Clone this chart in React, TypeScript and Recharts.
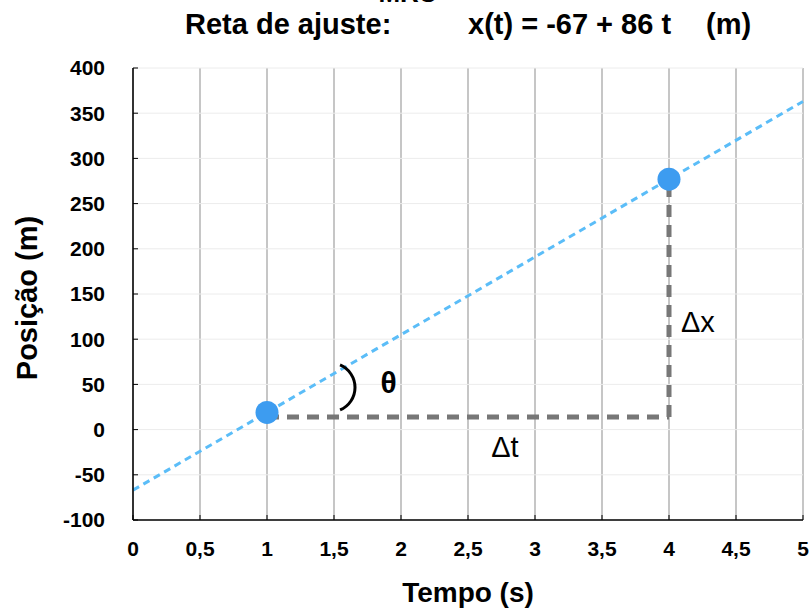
import { ComposedChart, CartesianGrid, Line, ReferenceDot, Scatter, XAxis, YAxis } from "recharts";

const measuredTimes = [1, 4];
const measuredPositions = [19, 277];

// fitted line read at the plot edges: x(t) = -67 + 86 t
const fitTimes = [0, 5];
const fitPositions = [-67, 363];

// dashed guides for Δt and Δx
const deltaTTimes = [1, 4];
const deltaTPositions = [14, 14];
const deltaXTimes = [4, 4];
const deltaXPositions = [14, 273];

const xTicks = [0, 0.5, 1, 1.5, 2, 2.5, 3, 3.5, 4, 4.5, 5];
const yTicks = [-100, -50, 0, 50, 100, 150, 200, 250, 300, 350, 400];

const zip = (ts: number[], xs: number[]) => ts.map((t, i) => ({ t, x: xs[i] }));

const measured = zip(measuredTimes, measuredPositions);
const fit = zip(fitTimes, fitPositions);
const deltaT = zip(deltaTTimes, deltaTPositions);
const deltaX = zip(deltaXTimes, deltaXPositions);

const FONT = "'Liberation Sans', Arial, Helvetica, sans-serif";
const tickStyle = { fill: "#000", fontSize: 21, fontWeight: 700, fontFamily: FONT };

const label = (text: string, size: number, weight: number) => (p: any) => (
  <text x={p.cx} y={p.cy} dy="0.36em" textAnchor="middle" fontSize={size} fontWeight={weight} fontFamily={FONT} fill="#000">
    {text}
  </text>
);

export default function App() {
  return (
    <div style={{ position: "absolute", left: 0, top: 0, width: 811, height: 612, background: "#fff" }}>
      <ComposedChart width={811} height={612} margin={{ top: 68, right: 8, bottom: 52, left: 73 }}>
        <CartesianGrid horizontal={false} stroke="#a0a0a0" strokeWidth={1.2} />
        <CartesianGrid vertical={false} stroke="#ececec" />
        <XAxis
          type="number"
          dataKey="t"
          domain={[0, 5]}
          ticks={xTicks}
          interval={0}
          height={40}
          tickSize={-5}
          tickMargin={26}
          tickFormatter={(v: number) => String(v).replace(".", ",")}
          tick={tickStyle}
          axisLine={{ stroke: "#000", strokeWidth: 1.5 }}
          tickLine={{ stroke: "#000" }}
        />
        <YAxis
          type="number"
          dataKey="x"
          domain={[-100, 400]}
          ticks={yTicks}
          interval={0}
          width={60}
          tickSize={-5}
          tickMargin={33}
          tick={tickStyle}
          axisLine={{ stroke: "#000", strokeWidth: 1.5 }}
          tickLine={{ stroke: "#000" }}
        />
        <Scatter
          data={measured}
          isAnimationActive={false}
          shape={(p: any) => <circle cx={p.cx} cy={p.cy} r={11.5} fill="#3d9cf0" />}
        />
        <Line data={fit} dataKey="x" stroke="#5bbdf8" strokeWidth={3} strokeDasharray="7 5" dot={false} activeDot={false} isAnimationActive={false} />
        <Line data={deltaT} dataKey="x" stroke="#777" strokeWidth={5} strokeDasharray="12 8" dot={false} activeDot={false} isAnimationActive={false} />
        <Line data={deltaX} dataKey="x" stroke="#777" strokeWidth={5} strokeDasharray="12 8" dot={false} activeDot={false} isAnimationActive={false} />
        <ReferenceDot
          x={1.475}
          y={46.6}
          shape={(p: any) => (
            <path
              d={`M ${p.cx + 9.4} ${p.cy - 22.5} A 24.4 24.4 0 0 1 ${p.cx + 9.4} ${p.cy + 22.5}`}
              fill="none"
              stroke="#000"
              strokeWidth={3}
            />
          )}
        />
        <ReferenceDot x={1.907} y={52.7} shape={label("θ", 30, 700)} />
        <ReferenceDot x={2.776} y={-18.7} shape={label("Δt", 29, 400)} />
        <ReferenceDot x={4.216} y={119.6} shape={label("Δx", 29, 400)} />
      </ComposedChart>
      <svg width={811} height={612} style={{ position: "absolute", left: 0, top: 0, pointerEvents: "none" }}>
        <g fontFamily={FONT} fontWeight={700} fill="#000">
          <text x={408} y={2} fontSize={26} textAnchor="middle">MRU</text>
          <text x={185} y={34} fontSize={29}>Reta de ajuste:</text>
          <text x={468} y={34} fontSize={29}>x(t) = -67 + 86 t</text>
          <text x={706} y={34} fontSize={29}>(m)</text>
          <text x={468} y={602} fontSize={28} textAnchor="middle">Tempo (s)</text>
          <text x={37} y={298} fontSize={29} textAnchor="middle" transform="rotate(-90 37 298)">Posição (m)</text>
        </g>
      </svg>
    </div>
  );
}
